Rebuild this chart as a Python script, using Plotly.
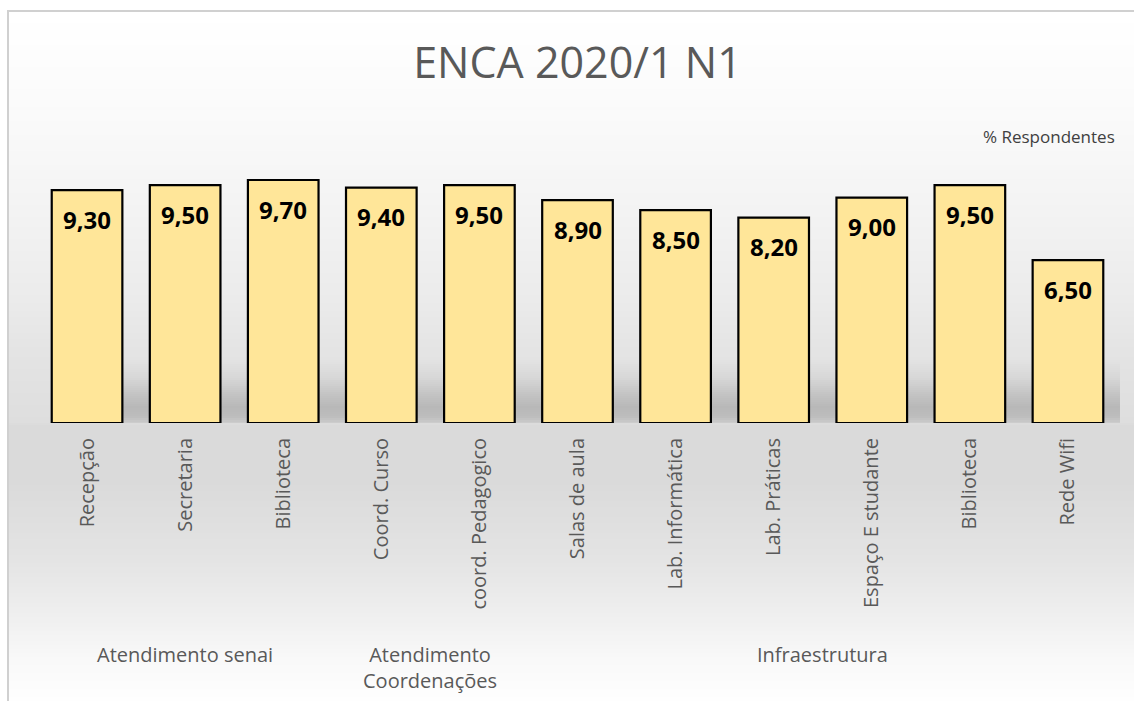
import plotly.graph_objects as go

# ---- data ----
categories = ["Recepção", "Secretaria", "Biblioteca", "Coord. Curso", "coord. Pedagogico",
              "Salas de aula", "Lab. Informática", "Lab. Práticas", "Espaço E studante",
              "Biblioteca", "Rede Wifi"]
values = [9.30, 9.50, 9.70, 9.40, 9.50, 8.90, 8.50, 8.20, 9.00, 9.50, 6.50]
groups = ["Atendimento senai", "Atendimento<br>Coordenações", "Infraestrutura"]
group_members = [[0, 1, 2], [3, 4], [5, 6, 7, 8, 9, 10]]
title_text = "ENCA 2020/1 N1"
unit_text = "% Respondentes"

# ---- geometry (pixels) ----
W, H = 1134, 701
L, R, T, B = 38, 1117, 150, 423
YMAX = (B - T) / 25.05


def xp(px):
    return (px - L) / (R - L)


def yp(py):
    return (B - py) / (B - T)


def interp(stops, y):
    for (y0, c0), (y1, c1) in zip(stops[:-1], stops[1:]):
        if y0 <= y <= y1:
            t = (y - y0) / (y1 - y0) if y1 != y0 else 0
            return c0 + (c1 - c0) * t
    return stops[-1][1] if y > stops[-1][0] else stops[0][1]


shapes = []
# background gradient (chart area)
bg_stops = [(11, 255), (100, 251), (200, 244), (300, 235), (350, 228), (423, 222),
            (425, 218), (480, 218), (560, 228), (620, 240), (660, 249), (701, 254)]
step = 2
y = 11
while y < H:
    g = int(round(interp(bg_stops, y + step / 2)))
    col = f"rgb({g},{g},{g})"
    shapes.append(dict(type="rect", xref="paper", yref="paper", layer="below",
                       x0=xp(8), x1=xp(W + 5), y0=yp(y), y1=yp(min(y + step, H + 5)),
                       fillcolor=col, line=dict(width=0)))
    y += step

# floor shadow band behind bars
sh_stops = [(358, 228), (378, 215), (395, 195), (407, 184), (416, 188), (423, 204)]
y = 358
while y < B:
    g = int(round(interp(sh_stops, y + 1)))
    col = f"rgb({g},{g},{g})"
    shapes.append(dict(type="rect", xref="paper", yref="paper", layer="below",
                       x0=xp(62), x1=xp(1120), y0=yp(y), y1=yp(min(y + 2, B)),
                       fillcolor=col, line=dict(width=0)))
    y += 2

# chart border
shapes.append(dict(type="rect", xref="paper", yref="paper", layer="below",
                   x0=xp(8), x1=xp(W + 20), y0=yp(11), y1=yp(H + 20),
                   fillcolor="rgba(0,0,0,0)", line=dict(color="#D0D0D0", width=2)))

x_pos = list(range(len(categories)))

fig = go.Figure()
fig.add_trace(go.Bar(
    x=x_pos, y=values, width=0.72,
    marker=dict(color="#FFE699", line=dict(color="#000000", width=2.2)),
    hoverinfo="skip",
))

annotations = []
for i, v in enumerate(values):
    annotations.append(dict(
        x=i, y=v, xref="x", yref="y", text=f"{v:.2f}".replace(".", ","),
        showarrow=False, yshift=-29, yanchor="middle",
        font=dict(family="Open Sans", size=24, color="#000000", weight="bold"),
    ))

for name, members in zip(groups, group_members):
    cx = sum(members) / len(members)
    annotations.append(dict(
        x=cx, y=yp(639), xref="x", yref="paper", text=name, showarrow=False,
        yanchor="top", xanchor="center", align="center",
        font=dict(family="Open Sans", size=20, color="#595959"),
    ))

annotations.append(dict(
    x=1.0, y=yp(136), xref="paper", yref="paper", text=unit_text, showarrow=False,
    xanchor="right", yanchor="middle",
    font=dict(family="Open Sans", size=17, color="#404040"),
))

fig.update_layout(
    width=W, height=H,
    margin=dict(l=L, r=W - R, t=T, b=H - B),
    paper_bgcolor="white", plot_bgcolor="rgba(0,0,0,0)",
    title=dict(text=title_text, x=0.5, xref="paper", y=1 - 63 / H, yref="container",
               yanchor="middle", xanchor="center",
               font=dict(family="Open Sans", size=43, color="#595959")),
    showlegend=False,
    shapes=shapes,
    annotations=annotations,
    xaxis=dict(range=[-0.5, len(categories) - 0.5], tickmode="array", tickvals=x_pos,
               ticktext=categories, tickangle=-90, showgrid=False, zeroline=False,
               showline=False, ticks="", ticklabelstandoff=10,
               tickfont=dict(family="Open Sans", size=20, color="#595959")),
    yaxis=dict(range=[0, YMAX], visible=False, showgrid=False, zeroline=False),
)

fig.write_html("out.html", config={"displayModeBar": False},
               post_script="document.body.style.margin='0px';document.body.style.padding='0px';")
